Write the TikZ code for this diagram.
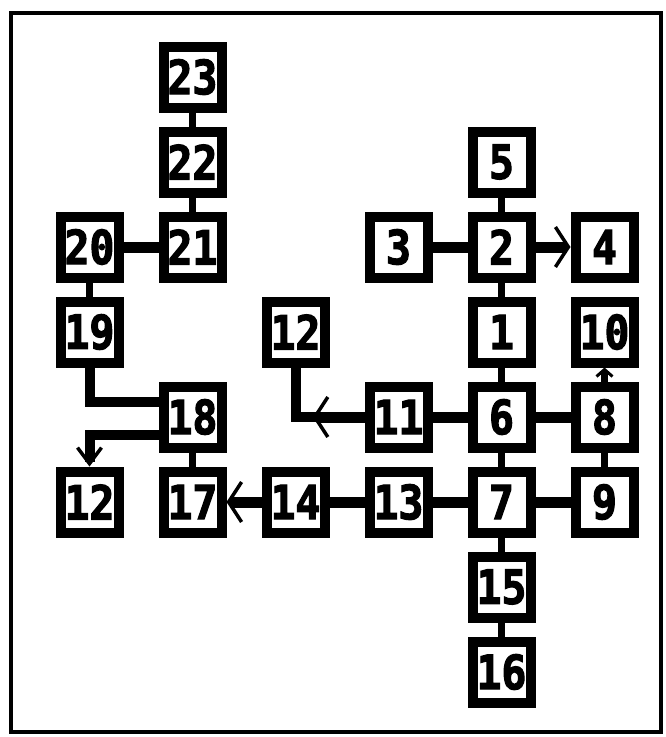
\documentclass[tikz,border=0pt]{standalone}
\usepackage{fontspec}
\usepackage{tikz}
\usetikzlibrary{arrows.meta,positioning,calc}
\newfontfamily\boxfont[FakeStretch=0.88,FakeBold=2.5]{DejaVu Sans Mono}

\begin{document}
\begin{tikzpicture}[x=1pt,y=-1pt,node distance=14pt and 35pt,
    every node/.style={font=\boxfont\bfseries\fontsize{47}{47}\selectfont},
    box/.style={draw,line width=10pt,minimum width=58pt,minimum height=61pt,inner sep=0pt},
    hcon/.style={line width=11pt},
    vcon/.style={line width=7pt},
    barb/.style={line width=11pt,-{Straight Barb[length=13pt,width=40pt,line width=3.5pt]}}]
    \useasboundingbox (0,0) rectangle (665,737);
    \draw[line width=3.5pt] (11,13) rectangle (661,732);
    % right column group
    \node[box] (b2) at (501.5,247) {2};
    \node[box,above=of b2] (b5) {5};
    \node[box,left=of b2] (b3) {3};
    \node[box,right=of b2] (b4) {4};
    \node[box,below=of b2] (b1) {1};
    \node[box,below=of b1] (b6) {6};
    \node[box,below=of b6] (b7) {7};
    \node[box,below=of b7] (b15) {15};
    \node[box,below=of b15] (b16) {16};
    \node[box,right=of b1] (b10) {10};
    \node[box,right=of b6] (b8) {8};
    \node[box,right=of b7] (b9) {9};
    \node[box,left=of b6] (b11) {11};
    \node[box,left=of b7] (b13) {13};
    \node[box,left=of b13] (b14) {14};
    \node[box,left=of b14] (b17) {17};
    \node[box,above=of b17] (b18) {18};
    \node[box,left=of b17] (b12l) {12};
    \node[box] (b12m) at (b14 |- b1) {12};
    % left column group
    \node[box] (b21) at (b17 |- b2) {21};
    \node[box,above=of b21] (b22) {22};
    \node[box,above=of b22] (b23) {23};
    \node[box,left=of b21] (b20) {20};
    \node[box,below=of b20] (b19) {19};
    \foreach \a/\b in {b23/b22,b22/b21,b20/b19,b18/b17,b5/b2,b2/b1,b1/b6,b6/b7,b7/b15,b15/b16,b8/b9}{\draw[vcon] (\a)--(\b);}
    \foreach \a/\b in {b20/b21,b3/b2,b11/b6,b6/b8,b13/b7,b7/b9,b14/b13}{\draw[hcon] (\a)--(\b);}
    \draw[barb] (b2)--(b4);
    \draw[barb] (b14)--(b17);
    \draw[vcon,-{Straight Barb[length=7pt,width=16pt,line width=3pt]}] (b8)--(b10);
    \draw[line width=10pt] (b11.west) -| (b12m.south);
    \draw[barb] (b11.west) -- ($(b11.west)!0.75!(b11.west -| b12m)$);
    \draw[line width=10pt] (b19.south) |- ([yshift=15pt]b18.west);
    \draw[line width=10pt,-{Straight Barb[length=16pt,width=24pt,line width=3.5pt]}] ([yshift=-18pt]b18.west) -| (b12l.north);
\end{tikzpicture}
\end{document}
